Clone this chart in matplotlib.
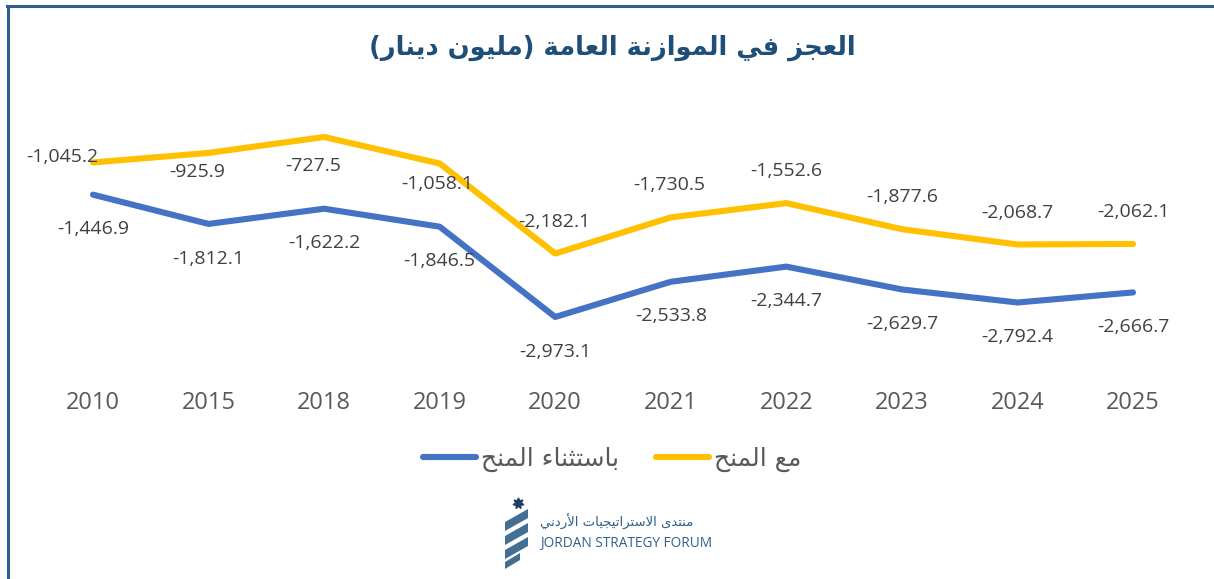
import matplotlib
matplotlib.use("Agg")
import matplotlib.pyplot as plt
from matplotlib.lines import Line2D
from matplotlib.patches import Polygon

# ---------------- data ----------------
years = ["2010", "2015", "2018", "2019", "2020", "2021", "2022", "2023", "2024", "2025"]
with_grants = [-1045.2, -925.9, -727.5, -1058.1, -2182.1, -1730.5, -1552.6, -1877.6, -2068.7, -2062.1]
excl_grants = [-1446.9, -1812.1, -1622.2, -1846.5, -2973.1, -2533.8, -2344.7, -2629.7, -2792.4, -2666.7]
title_text = "العجز في الموازنة العامة (مليون دينار)"
label_with = "مع المنح"
label_excl = "باستثناء المنح"
logo_ar = "منتدى الاستراتيجيات الأردني"
logo_en = "JORDAN STRATEGY FORUM"

# label offsets in points (dx, dy), style only
with_offsets = [(-22, 4), (-8, -14), (-8, -21), (-2, -15), (-1, 23), (-1, 23), (0, 23), (0, 23), (0, 23), (0, 23)]
excl_offset = (0, -25)

# ---------------- minimal Arabic shaping ----------------
DUAL = {'ب': 0xFE8F, 'ت': 0xFE95, 'ث': 0xFE99, 'ج': 0xFE9D, 'ح': 0xFEA1, 'خ': 0xFEA5,
        'س': 0xFEB1, 'ش': 0xFEB5, 'ص': 0xFEB9, 'ض': 0xFEBD, 'ط': 0xFEC1, 'ظ': 0xFEC5,
        'ع': 0xFEC9, 'غ': 0xFECD, 'ف': 0xFED1, 'ق': 0xFED5, 'ك': 0xFED9, 'ل': 0xFEDD,
        'م': 0xFEE1, 'ن': 0xFEE5, 'ه': 0xFEE9, 'ي': 0xFEF1, 'ئ': 0xFE89}
RIGHT = {'آ': 0xFE81, 'أ': 0xFE83, 'ؤ': 0xFE85, 'إ': 0xFE87, 'ا': 0xFE8D, 'ة': 0xFE93,
         'د': 0xFEA9, 'ذ': 0xFEAB, 'ر': 0xFEAD, 'ز': 0xFEAF, 'و': 0xFEED, 'ى': 0xFEEF}
LIG = {'آ': 0xFEF5, 'أ': 0xFEF7, 'إ': 0xFEF9, 'ا': 0xFEFB}


def shape(s):
    items = []
    i = 0
    while i < len(s):
        c = s[i]
        if c == 'ل' and i + 1 < len(s) and s[i + 1] in LIG:
            items.append(('R', LIG[s[i + 1]], None))
            i += 2
            continue
        if c in DUAL:
            items.append(('D', DUAL[c], c))
        elif c in RIGHT:
            items.append(('R', RIGHT[c], c))
        elif c == 'ء':
            items.append(('N', 0xFE80, c))
        else:
            items.append(('N', None, c))
        i += 1
    out = []
    for k, (kind, base, ch) in enumerate(items):
        pj = k > 0 and items[k - 1][0] == 'D' and kind in 'DR'
        nj = kind == 'D' and k + 1 < len(items) and items[k + 1][0] in 'DR'
        if kind == 'N':
            out.append(chr(base) if base else ch)
        elif kind == 'R':
            out.append(chr(base + (1 if pj else 0)))
        else:
            out.append(chr(base + (3 if (pj and nj) else 1 if pj else 2 if nj else 0)))
    vis = ''.join(reversed(out))
    return vis.translate(str.maketrans({'(': ')', ')': '('}))


AR_FONT = ['DejaVu Sans']
NUM_FONT = ['Open Sans', 'DejaVu Sans']

# ---------------- figure ----------------
W, H = 1214, 579
fig = plt.figure(figsize=(W / 100, H / 100), dpi=100)
fig.patch.set_facecolor('white')

ax = fig.add_axes([35.2 / W, (H - 359.2) / H, 1155.6 / W, 280.5 / H])
x = list(range(len(years)))
blue = '#4472C4'
yellow = '#FFC000'
ln_excl, = ax.plot(x, excl_grants, color=blue, lw=4.4, solid_capstyle='round', solid_joinstyle='round')
ln_with, = ax.plot(x, with_grants, color=yellow, lw=4.4, solid_capstyle='round', solid_joinstyle='round')
ax.set_xlim(-0.5, len(years) - 0.5)
ax.set_ylim(-3500, 0)
ax.axis('off')


def fmt(v):
    return f"{v:,.1f}"


for i, v in enumerate(with_grants):
    dx, dy = with_offsets[i]
    ax.annotate(fmt(v), (i, v), xytext=(dx, dy), textcoords='offset points',
                ha='center', va='center', fontsize=14, color='#404040', family=NUM_FONT)
for i, v in enumerate(excl_grants):
    ax.annotate(fmt(v), (i, v), xytext=excl_offset, textcoords='offset points',
                ha='center', va='center', fontsize=14, color='#404040', family=NUM_FONT)

for i, yr in enumerate(years):
    ax.text(i, -0.156, yr, transform=ax.get_xaxis_transform(), ha='center', va='center',
            fontsize=17, color='#595959', family=NUM_FONT)

# title
fig.text(612 / W, 1 - 48 / H, shape(title_text), ha='center', va='center', fontsize=18.5,
         fontweight='bold', color='#1F4E79', family=AR_FONT)

# legend
leg = fig.legend([ln_excl, ln_with], [shape(label_excl), shape(label_with)],
                 loc='center', bbox_to_anchor=(612 / W, 1 - 459 / H), ncol=2, frameon=False,
                 prop={'family': AR_FONT, 'size': 18}, handlelength=2.1, handletextpad=0.2,
                 columnspacing=1.5)
for t in leg.get_texts():
    t.set_color('#595959')

# border (left and top)
fig.add_artist(Line2D([7.5 / W, 7.5 / W], [0, 1 - 5.5 / H], color='#2E5F8E', lw=2.2,
                      transform=fig.transFigure))
fig.add_artist(Line2D([6.5 / W, 1], [1 - 5.5 / H, 1 - 5.5 / H], color='#2E5F8E', lw=2.2,
                      transform=fig.transFigure))

# logo
def px(xp, yp):
    return (xp / W, 1 - yp / H)


logo_col = '#2F5F8A'
bands = [
    [(505, 522), (528, 509), (528, 518), (505, 531)],
    [(505, 536), (528, 523), (528, 532), (505, 545)],
    [(505, 550), (528, 537), (528, 546), (505, 559)],
    [(505, 562), (520, 553), (520, 560), (505, 569)],
]
for b in bands:
    fig.add_artist(Polygon([px(*p) for p in b], closed=True, transform=fig.transFigure,
                           facecolor=logo_col, edgecolor='none', alpha=0.9))
fig.add_artist(Line2D([px(518, 503)[0]], [px(518, 503)[1]], marker=(7, 1, 0), markersize=8,
                      color='#1F3F63', transform=fig.transFigure))
fig.text(540 / W, 1 - 522 / H, shape(logo_ar), ha='left', va='center', fontsize=9.5,
         color=logo_col, family=AR_FONT)
fig.text(540 / W, 1 - 543 / H, logo_en, ha='left', va='center', fontsize=9.8,
         color=logo_col, family=NUM_FONT)

fig.savefig('out.png', dpi=100, facecolor='white')
